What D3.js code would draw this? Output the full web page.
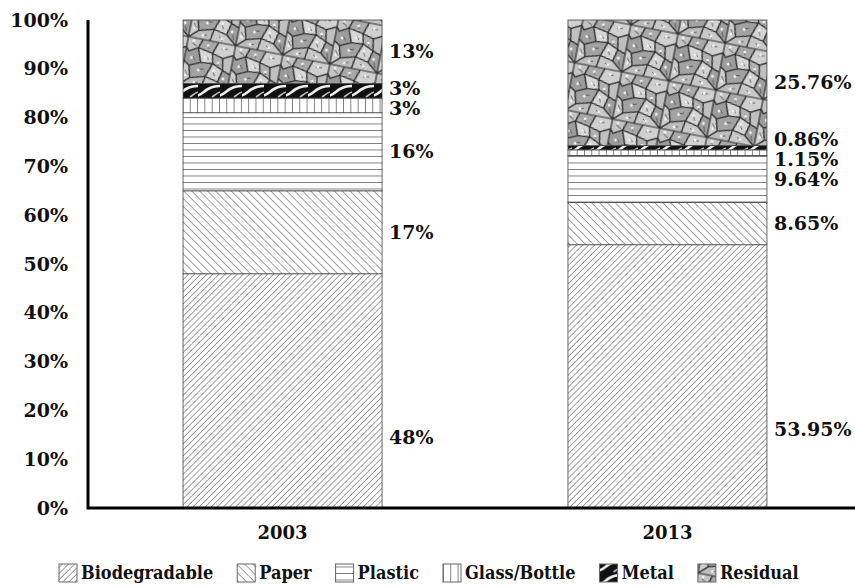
<!DOCTYPE html>
<html>
<head>
<meta charset="utf-8">
<title>Waste composition 2003 / 2013</title>
<script src="https://cdnjs.cloudflare.com/ajax/libs/d3/7.8.5/d3.min.js"></script>
<style>
  body { margin: 0; background: #fff; }
  text { font-family: "DejaVu Serif", serif; font-weight: bold; fill: #111; }
  .legend text { font-family: "DejaVu Serif Condensed", "DejaVu Serif", serif; }
</style>
</head>
<body>
<script>
var width = 855, height = 586;

var categories = ["2003", "2013"];
var materials = ["Biodegradable", "Paper", "Plastic", "Glass/Bottle", "Metal", "Residual"];
var values2003 = [48, 17, 16, 3, 3, 13];
var values2013 = [53.95, 8.65, 9.64, 1.15, 0.86, 25.76];
var yTicks = [0, 10, 20, 30, 40, 50, 60, 70, 80, 90, 100];

var series = [values2003, values2013];

var svg = d3.select("body").append("svg")
    .attr("width", width)
    .attr("height", height);

var defs = svg.append("defs");

// hatch patterns, one per material
function linePattern(id, size, angle, sw, color) {
    var p = defs.append("pattern")
        .attr("id", id)
        .attr("patternUnits", "userSpaceOnUse")
        .attr("width", size).attr("height", size)
        .attr("patternTransform", "rotate(" + angle + ")");
    p.append("rect").attr("width", size).attr("height", size).attr("fill", "#fff");
    p.append("line")
        .attr("x1", 0).attr("y1", 0).attr("x2", 0).attr("y2", size)
        .attr("stroke", color).attr("stroke-width", sw);
}
linePattern("pat-bio", 4.3, 45, 1, "#444");
linePattern("pat-paper", 5.6, -45, 1, "#444");
linePattern("pat-plastic", 6.5, 90, 1.1, "#222");
linePattern("pat-glass", 7.3, 0, 1.1, "#222");

var metal = defs.append("pattern")
    .attr("id", "pat-metal")
    .attr("patternUnits", "userSpaceOnUse")
    .attr("width", 22).attr("height", 14);
metal.append("rect").attr("width", 22).attr("height", 14).attr("fill", "#111");
metal.append("path")
    .attr("d", "M-3,12 C3,12 6,7 10,5 S16,2 25,2")
    .attr("fill", "none").attr("stroke", "#eee").attr("stroke-width", 2.6);
metal.append("path")
    .attr("d", "M14,13 C17,11 19,9 22,8")
    .attr("fill", "none").attr("stroke", "#bbb").attr("stroke-width", 1.6);

// cracked-stone texture for residual
var resid = defs.append("pattern")
    .attr("id", "pat-residual")
    .attr("patternUnits", "userSpaceOnUse")
    .attr("width", 48).attr("height", 48)
    .attr("patternTransform", "rotate(11)");
resid.append("rect").attr("width", 48).attr("height", 48).attr("fill", "#7a7a7a");
var cells = [
    ["M0,0 L15,0 L12,9 L3,14 L0,10 Z", "#c4c4c4"],
    ["M15,0 L31,0 L27,12 L12,9 Z", "#a9a9a9"],
    ["M31,0 L48,0 L48,10 L38,15 L27,12 Z", "#d0d0d0"],
    ["M0,10 L3,14 L12,9 L17,23 L6,28 L0,24 Z", "#9c9c9c"],
    ["M12,9 L27,12 L29,22 L17,23 Z", "#d8d8d8"],
    ["M27,12 L38,15 L40,27 L29,22 Z", "#b2b2b2"],
    ["M38,15 L48,10 L48,30 L40,27 Z", "#c0c0c0"],
    ["M0,24 L6,28 L9,40 L0,48 Z", "#cdcdcd"],
    ["M6,28 L17,23 L29,22 L24,36 L9,40 Z", "#a2a2a2"],
    ["M29,22 L40,27 L37,39 L24,36 Z", "#d4d4d4"],
    ["M40,27 L48,30 L48,48 L37,39 Z", "#9e9e9e"],
    ["M9,40 L24,36 L22,48 L0,48 Z", "#bcbcbc"],
    ["M24,36 L37,39 L48,48 L22,48 Z", "#c8c8c8"]
];
cells.forEach(function(c) {
    resid.append("path").attr("d", c[0]).attr("fill", c[1])
        .attr("stroke", "#2e2e2e").attr("stroke-width", 1.2);
});
resid.append("path")
    .attr("d", "M5,5 L10,8 M20,3 L22,8 M35,6 L41,5 M8,18 L11,22 M21,15 L24,19 M33,18 L35,23 M3,33 L6,38 M16,30 L21,29 M31,30 L33,34 M43,38 L45,43 M13,44 L18,43 M30,42 L34,46")
    .attr("stroke", "#444").attr("stroke-width", 0.8);
[[6, 3], [21, 5], [37, 5], [7, 20], [21, 17], [34, 20], [4, 38], [16, 31], [31, 29], [42, 35], [14, 44], [33, 44]].forEach(function(d) {
    resid.append("circle").attr("cx", d[0]).attr("cy", d[1]).attr("r", 1.4).attr("fill", "#f4f4f4");
});

var patterns = ["pat-bio", "pat-paper", "pat-plastic", "pat-glass", "pat-metal", "pat-residual"];

// scales
var x = d3.scaleBand()
    .domain(categories)
    .range([88, 862])
    .paddingInner(0.483)
    .paddingOuter(0.247);

var y = d3.scaleLinear()
    .domain([0, 100])
    .range([508, 20]);

// stacked bars
var stackData = categories.map(function(c, i) {
    var row = { category: c };
    materials.forEach(function(m, j) { row[m] = series[i][j]; });
    return row;
});
var stacked = d3.stack().keys(materials)(stackData);

stacked.forEach(function(layer, j) {
    svg.append("g").selectAll("rect")
        .data(layer)
        .join("rect")
        .attr("x", function(d) { return x(d.data.category); })
        .attr("width", x.bandwidth())
        .attr("y", function(d) { return y(Math.min(d[1], 100)); })
        .attr("height", function(d) { return y(d[0]) - y(Math.min(d[1], 100)); })
        .attr("fill", "url(#" + patterns[j] + ")")
        .attr("stroke", "#444")
        .attr("stroke-width", 0.8);
});

// spread labels that would collide: merge into groups centred on their mean
function dodge(items, gap) {
    var groups = items.slice().sort(function(a, b) { return a.y - b.y; })
        .map(function(d) { return { items: [d], c: d.y }; });
    var merged = true;
    while (merged) {
        merged = false;
        for (var i = 0; i < groups.length - 1; i++) {
            var a = groups[i], b = groups[i + 1];
            var aBot = a.c + (a.items.length - 1) * gap / 2;
            var bTop = b.c - (b.items.length - 1) * gap / 2;
            if (bTop - aBot < gap) {
                var all = a.items.concat(b.items);
                groups.splice(i, 2, { items: all, c: d3.mean(all, function(d) { return d.y; }) });
                merged = true;
                break;
            }
        }
    }
    groups.forEach(function(g) {
        g.items.forEach(function(d, k) {
            d.ly = g.c + (k - (g.items.length - 1) / 2) * gap;
        });
    });
}

categories.forEach(function(c, i) {
    var items = stacked.map(function(layer, j) {
        var d = layer[i];
        var pos = j === 0 ? d[0] + (d[1] - d[0]) * 0.3 : (d[0] + Math.min(d[1], 100)) / 2;
        return { text: series[i][j] + "%", y: y(pos) };
    });
    dodge(items, 20);
    svg.append("g").selectAll("text")
        .data(items)
        .join("text")
        .attr("x", x(c) + x.bandwidth() + 7)
        .attr("y", function(d) { return d.ly; })
        .attr("dy", "0.35em")
        .attr("font-size", 19)
        .text(function(d) { return d.text; });
});

// y axis
var yAxis = d3.axisLeft(y)
    .tickValues(yTicks)
    .tickSize(0)
    .tickPadding(20)
    .tickFormat(function(d) { return d + "%"; });

var gy = svg.append("g")
    .attr("transform", "translate(88,0)")
    .call(yAxis);
gy.select(".domain").remove();
gy.selectAll("text")
    .attr("font-family", "DejaVu Serif")
    .attr("font-weight", "bold")
    .attr("font-size", 19)
    .attr("fill", "#111");

svg.append("path")
    .attr("d", "M88," + y(100) + " V" + y(0) + " H" + width)
    .attr("fill", "none")
    .attr("stroke", "#000")
    .attr("stroke-width", 3);

// category labels
svg.append("g").selectAll("text")
    .data(categories)
    .join("text")
    .attr("x", function(d) { return x(d) + x.bandwidth() / 2; })
    .attr("y", 539)
    .attr("text-anchor", "middle")
    .attr("font-size", 18)
    .text(function(d) { return d; });

// legend
var legend = svg.append("g").attr("class", "legend").attr("transform", "translate(59,573)");
var lx = 0;
materials.forEach(function(m, j) {
    var g = legend.append("g").attr("transform", "translate(" + lx + ",0)");
    g.append("rect")
        .attr("x", 0).attr("y", -9)
        .attr("width", 18).attr("height", 18)
        .attr("fill", "url(#" + patterns[j] + ")")
        .attr("stroke", "#666")
        .attr("stroke-width", 1);
    var t = g.append("text")
        .attr("x", 22)
        .attr("dy", "0.35em")
        .attr("font-size", 18)
        .text(m);
    lx += 22 + t.node().getComputedTextLength() + 24;
});
</script>
</body>
</html>
